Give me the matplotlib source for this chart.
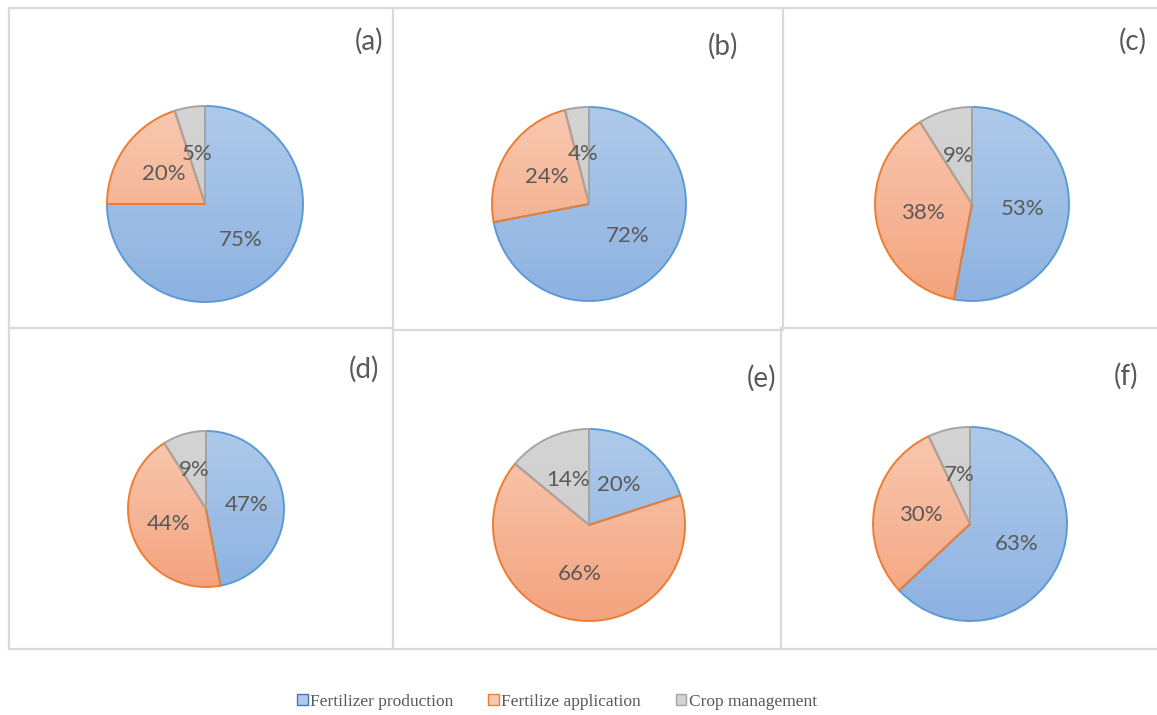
import matplotlib.pyplot as plt
import numpy as np
from matplotlib.colors import LinearSegmentedColormap
from matplotlib.lines import Line2D
from matplotlib.patches import Patch

# Emission shares per scenario: production, application, crop management
categories = ['Fertilizer production', 'Fertilize application', 'Crop management']
panel_names = ['(a)', '(b)', '(c)', '(d)', '(e)', '(f)']
production = [75, 72, 53, 47, 20, 63]
application = [20, 24, 38, 44, 66, 30]
management = [5, 4, 9, 9, 14, 7]

W, H = 1157, 715
fig = plt.figure(figsize=(W / 100, H / 100), dpi=100)
fig.patch.set_facecolor('white')

# pie centre (x, y) and radius, in pixels from top-left
pie_geom = [(205, 204, 98), (589, 204, 97), (972, 204, 97),
            (206, 509, 78), (589, 525, 96), (970, 524, 97)]
# panel label positions
label_pos = [(369, 41), (723, 46), (1133, 41), (364, 369), (762, 378), (1126, 376)]

edge_cols = ['#5B9BD5', '#ED7D31', '#A5A5A5']
grad_cols = [('#AECAEA', '#8DB2E1'), ('#F8C9B1', '#F4A37E'), ('#D4D4D4', '#C9C9C9')]
legend_edges = ['#4472C4', '#ED7D31', '#A5A5A5']

text_col = '#595959'

for i in range(6):
    cx, cy, r = pie_geom[i]
    ax = fig.add_axes([(cx - r) / W, 1 - (cy + r) / H, 2 * r / W, 2 * r / H])
    vals = [production[i], application[i], management[i]]
    wedges, texts, autotexts = ax.pie(
        vals, startangle=90, counterclock=False, radius=1,
        colors=['none'] * 3,
        wedgeprops=dict(edgecolor='none', linewidth=0),
        autopct=lambda p: f'{p:.0f}%', pctdistance=0.52,
        textprops=dict(color=text_col, fontsize=16, family='Lato'))
    for w, (c0, c1) in zip(wedges, grad_cols):
        cmap = LinearSegmentedColormap.from_list('g', [c1, c0])
        grad = np.linspace(0, 1, 256).reshape(-1, 1)
        im = ax.imshow(grad, extent=(-1, 1, -1, 1), origin='lower', cmap=cmap,
                       aspect='auto', zorder=1)
        im.set_clip_path(w)
    # outlines drawn on top of the gradient fills
    for w, ec in zip(wedges, edge_cols):
        w.set_edgecolor(ec)
        w.set_linewidth(1.4)
        w.set_zorder(3)
    for t in autotexts:
        t.set_zorder(4)
    ax.set_xlim(-1, 1)
    ax.set_ylim(-1, 1)
    ax.set_aspect('auto')
    ax.axis('off')

    lx, ly = label_pos[i]
    fig.text(lx / W, 1 - ly / H, panel_names[i], ha='center', va='center',
             fontsize=20, color=text_col, family='Lato')

# panel frame lines
frame_col = '#D9D9D9'
segments = [
    ((9, 8), (1157, 8)),
    ((9, 8), (9, 649)),
    ((393, 8), (393, 330)),
    ((783, 8), (783, 328)),
    ((9, 328), (393, 328)),
    ((393, 330), (783, 330)),
    ((783, 328), (1157, 328)),
    ((393, 330), (393, 649)),
    ((781, 328), (781, 649)),
    ((9, 649), (1157, 649)),
]
for (x0, y0), (x1, y1) in segments:
    fig.add_artist(Line2D([x0 / W, x1 / W], [1 - y0 / H, 1 - y1 / H],
                          color=frame_col, linewidth=1.6,
                          transform=fig.transFigure))

handles = [Patch(facecolor=c0, edgecolor=ec, linewidth=1.0)
           for (c0, c1), ec in zip(grad_cols, legend_edges)]
fig.legend(handles, categories, loc='center', bbox_to_anchor=(557 / W, 1 - 702 / H),
           ncol=3, frameon=False, handlelength=0.6, handleheight=0.6,
           handletextpad=0.15, columnspacing=2.0,
           prop=dict(family='Liberation Serif', size=12.5), labelcolor=text_col)

fig.savefig('out.png', dpi=100)
